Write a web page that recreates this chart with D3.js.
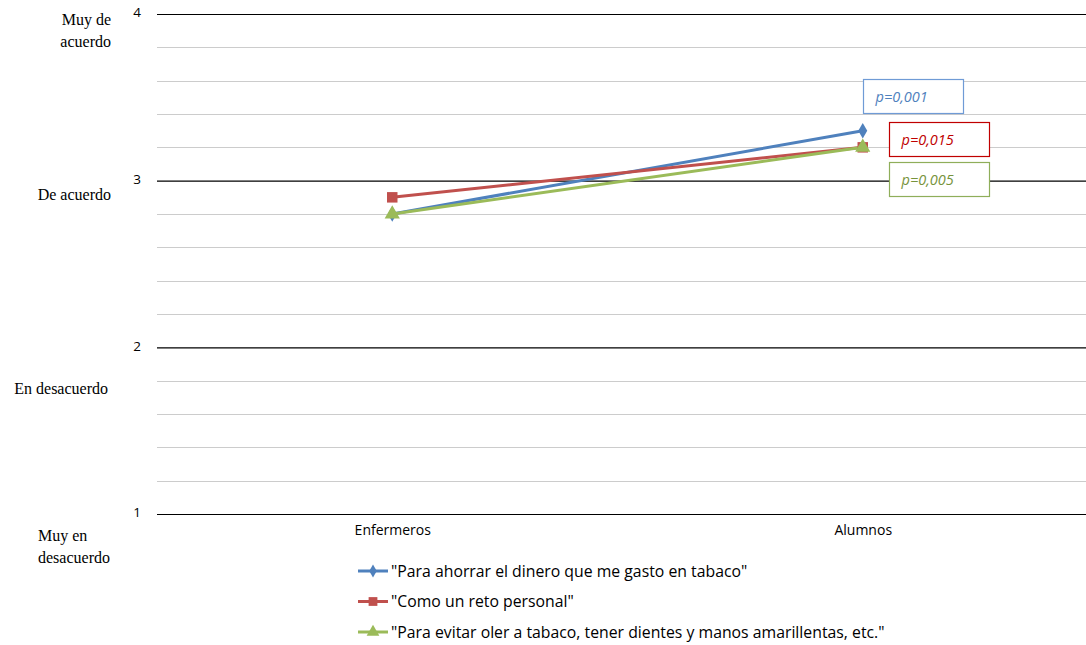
<!DOCTYPE html>
<html>
<head>
<meta charset="utf-8">
<script src="https://cdn.jsdelivr.net/npm/d3@7"></script>
<style>
  html, body { margin: 0; padding: 0; background: #fff; }
  svg { display: block; }
</style>
</head>
<body>
<svg id="chart" width="1086" height="645"></svg>
<script>
// Grupos comparados
const categories = ["Enfermeros", "Alumnos"];

// Puntuaciones medias por motivo
const ahorrarValues = [2.8, 3.3];
const retoValues = [2.9, 3.2];
const olerValues = [2.8, 3.2];

const seriesNames = [
  "\"Para ahorrar el dinero que me gasto en tabaco\"",
  "\"Como un reto personal\"",
  "\"Para evitar oler a tabaco, tener dientes y manos amarillentas, etc.\""
];
const pValues = ["p=0,001", "p=0,015", "p=0,005"];

const yTicks = [1, 2, 3, 4];
const scaleLabels = [
  { v: 4, lines: ["Muy de", "acuerdo"] },
  { v: 3, lines: ["De acuerdo"] },
  { v: 2, lines: ["En desacuerdo"] },
  { v: 1, lines: ["Muy en", "desacuerdo"] }
];

const colors = ["#4F81BD", "#C0504D", "#9BBB59"];
const series = [ahorrarValues, retoValues, olerValues].map((vals, i) => ({
  name: seriesNames[i], values: vals, color: colors[i], p: pValues[i]
}));

const sans = "'Open Sans', 'Noto Sans', 'Liberation Sans', sans-serif";
const svg = d3.select("#chart");
const plot = { left: 157, right: 1098, top: 14, bottom: 514 };

const x = d3.scalePoint().domain(categories).range([plot.left, plot.right]).padding(0.5);
const y = d3.scaleLinear().domain([1, 4]).range([plot.bottom, plot.top]);

// Líneas de cuadrícula: secundarias cada 0,2 y principales en cada entero
const minor = d3.range(1, 4.0001, 0.2).map(v => +v.toFixed(1)).filter(v => !Number.isInteger(v));
svg.append("g").selectAll("line").data(minor).join("line")
  .attr("x1", plot.left).attr("x2", 1086)
  .attr("y1", d => Math.round(y(d)) + 0.5).attr("y2", d => Math.round(y(d)) + 0.5)
  .attr("stroke", "#cccccc").attr("stroke-width", 1);

const yAxis = d3.axisLeft(y).tickValues(yTicks).tickSize(-(1086 - plot.left)).tickFormat(d3.format("d"));
const gy = svg.append("g").attr("transform", `translate(${plot.left},0)`).call(yAxis);
gy.select(".domain").remove();
gy.selectAll(".tick line").attr("stroke", "#000").attr("stroke-width", 1.2);
gy.selectAll(".tick text")
  .attr("x", -16).attr("dy", "0.22em")
  .style("font-family", sans)
  .style("font-size", "13.5px").attr("fill", "#000");

// Etiquetas de la escala Likert
const lab = svg.append("g")
  .style("font-family", "'Liberation Serif', 'DejaVu Serif', serif")
  .style("font-size", "16px").attr("fill", "#000");
const labelPos = {
  4: { x: 111, y0: 25, anchor: "end" },
  3: { x: 111, y0: 200, anchor: "end" },
  2: { x: 108, y0: 394, anchor: "end" },
  1: { x: 38, y0: 541, anchor: "start" }
};
scaleLabels.forEach(l => {
  const p = labelPos[l.v];
  const t = lab.append("text").attr("text-anchor", p.anchor);
  l.lines.forEach((s, i) => {
    t.append("tspan").attr("x", p.x).attr("y", p.y0 + i * 21.5).text(s);
  });
});

// Etiquetas de categoría
const xAxis = d3.axisBottom(x).tickSize(0);
const gx = svg.append("g").attr("transform", `translate(0,${plot.bottom})`).call(xAxis);
gx.select(".domain").remove();
gx.selectAll(".tick text").attr("dy", "1.3em")
  .style("font-family", sans)
  .style("font-size", "14px").attr("fill", "#000");

// Series
const line = d3.line().x((d, i) => x(categories[i])).y(d => y(d));
const symbols = [d3.symbolDiamond, d3.symbolSquare, d3.symbolTriangle];
const symSizes = [70, 110, 100];

series.forEach((s) => {
  svg.append("path").datum(s.values).attr("d", line)
    .attr("fill", "none").attr("stroke", s.color).attr("stroke-width", 3)
    .attr("stroke-linejoin", "round");
});
series.forEach((s, i) => {
  svg.append("g").selectAll("path").data(s.values).join("path")
    .attr("transform", (d, j) => `translate(${x(categories[j])},${y(d)})`)
    .attr("d", d3.symbol().type(symbols[i]).size(symSizes[i]))
    .attr("fill", s.color);
});

// Cuadros con el valor p
const boxes = [
  { x: 863.5, y: 79.5 },
  { x: 889.5, y: 122.5 },
  { x: 889.5, y: 162.5 }
];
const pColors = ["#4F81BD", "#C00000", "#77933C"];
const pBorders = ["#6f9bd6", "#C00000", "#8fae5a"];
series.forEach((s, i) => {
  const b = boxes[i];
  svg.append("rect").attr("x", b.x).attr("y", b.y).attr("width", 100).attr("height", 34)
    .attr("fill", "#fff").attr("stroke", pBorders[i]).attr("stroke-width", 1.2);
  svg.append("text").attr("x", b.x + 12).attr("y", b.y + 22)
    .style("font-family", sans)
    .style("font-size", "14.5px").style("font-style", "italic")
    .attr("fill", pColors[i])
    .text(s.p);
});

// Leyenda
const leg = svg.append("g");
series.forEach((s, i) => {
  const ly = 571 + i * 30.5;
  leg.append("line").attr("x1", 358).attr("x2", 388).attr("y1", ly).attr("y2", ly)
    .attr("stroke", s.color).attr("stroke-width", 3);
  leg.append("path").attr("transform", `translate(373,${ly})`)
    .attr("d", d3.symbol().type(symbols[i]).size(symSizes[i] * 0.7)).attr("fill", s.color);
  leg.append("text").attr("x", 391).attr("y", ly + 5.5)
    .style("font-family", sans)
    .style("font-size", "15.8px").attr("fill", "#000")
    .text(s.name);
});
</script>
</body>
</html>
